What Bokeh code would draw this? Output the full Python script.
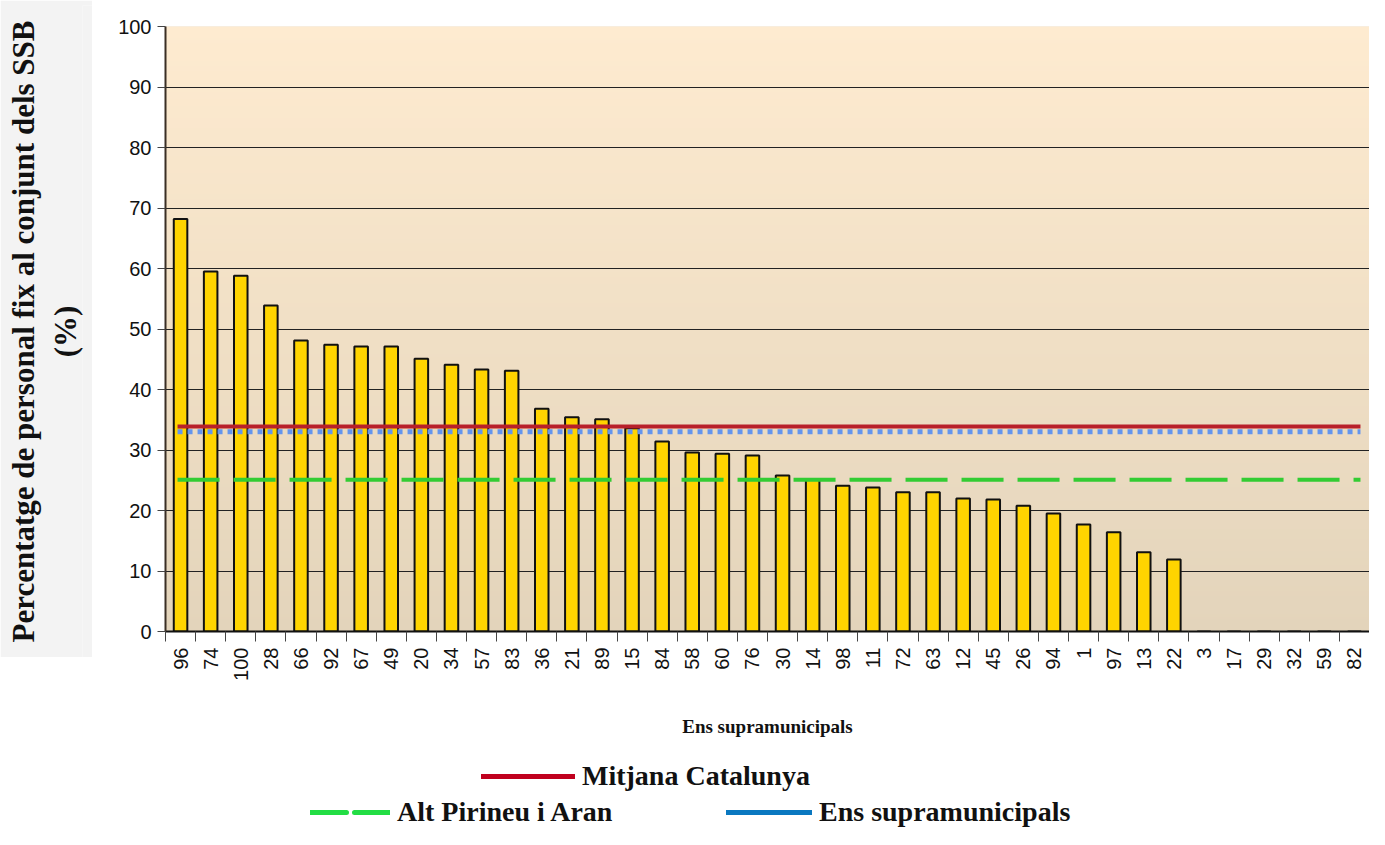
import numpy as np
from math import pi
from bokeh.plotting import figure
from bokeh.layouts import row, column
from bokeh.models import Range1d, FixedTicker, Legend, LegendItem
from bokeh.embed import file_html
from bokeh.resources import INLINE

# ---------------- data ----------------
categories = ["96", "74", "100", "28", "66", "92", "67", "49", "20", "34",
              "57", "83", "36", "21", "89", "15", "84", "58", "60", "76",
              "30", "14", "98", "11", "72", "63", "12", "45", "26", "94",
              "1", "97", "13", "22", "3", "17", "29", "32", "59", "82"]
values = [68.2, 59.5, 58.8, 53.9, 48.1, 47.4, 47.1, 47.1, 45.1, 44.1,
          43.3, 43.1, 36.8, 35.4, 35.1, 33.6, 31.4, 29.6, 29.4, 29.1,
          25.8, 25.2, 24.1, 23.8, 23.0, 23.0, 22.0, 21.8, 20.8, 19.5,
          17.7, 16.4, 13.1, 11.9, 0, 0, 0, 0, 0, 0]
mitjana_catalunya = 33.9
ens_supramunicipals = 33.0
alt_pirineu_aran = 25.1
y_ticks = [0, 10, 20, 30, 40, 50, 60, 70, 80, 90, 100]

y_title_1 = "Percentatge de personal fix al conjunt dels SSB"
y_title_2 = "(%)"
x_title = "Ens supramunicipals"
legend_labels = ["Mitjana Catalunya", "Alt Pirineu i Aran", "Ens supramunicipals"]

n = len(categories)
xs = list(range(n))

SERIF = "Liberation Serif"
SANS = "Liberation Sans"
GRAY = "#f3f3f3"

# ---------------- left gray label panel ----------------
lab = figure(width=92, height=657, x_range=(0, 1), y_range=(0, 1),
             x_axis_location=None, y_axis_location="left",
             toolbar_location=None, output_backend="svg",
             min_border_left=82, min_border_right=0, min_border_top=5,
             min_border_bottom=0, outline_line_color=None,
             background_fill_color=GRAY, border_fill_color=GRAY)
lab.grid.visible = False
lab.yaxis.ticker = FixedTicker(ticks=[])
lab.yaxis.axis_line_color = None
lab.yaxis.major_tick_line_color = None
lab.yaxis.minor_tick_line_color = None
lab.yaxis.major_tick_out = 0
lab.yaxis.major_tick_in = 0
lab.yaxis.axis_label = y_title_1 + "\n" + y_title_2
lab.yaxis.axis_label_standoff = 0
lab.yaxis.axis_label_text_font = SERIF
lab.yaxis.axis_label_text_font_style = "bold"
lab.yaxis.axis_label_text_font_size = "31px"
lab.yaxis.axis_label_text_color = "#111111"

# ---------------- main chart ----------------
p = figure(width=1277, height=740, x_range=Range1d(-0.5, n - 0.5),
           y_range=Range1d(0, 100), toolbar_location=None,
           output_backend="svg", min_border_left=73, min_border_right=0,
           min_border_top=26, min_border_bottom=109,
           outline_line_color=None, background_fill_color="#f0dfc5",
           border_fill_color="white")

# gradient plot background
H = 256
img = np.empty((H, 1), dtype=np.uint32)
view = img.view(dtype=np.uint8).reshape((H, 1, 4))
top_c = np.array([254, 235, 208])
bot_c = np.array([227, 212, 187])
t = np.linspace(0, 1, H)[:, None]
cols = (bot_c[None, :] * (1 - t) + top_c[None, :] * t).round().astype(np.uint8)
view[:, 0, 0] = cols[:, 0]
view[:, 0, 1] = cols[:, 1]
view[:, 0, 2] = cols[:, 2]
view[:, 0, 3] = 255
p.image_rgba(image=[img], x=-0.5, y=0, dw=n, dh=100, level="image")

# bars
p.vbar(x=xs, top=values, width=0.45, bottom=0, fill_color="#FFD400",
       line_color="#111111", line_width=2)

# reference lines
p.line(x=[xs[0] - 0.1, xs[-1] + 0.2], y=[mitjana_catalunya] * 2,
       line_color="#B8202A", line_width=4)
p.line(x=[xs[0] - 0.1, xs[-1] + 0.2], y=[ens_supramunicipals] * 2,
       line_color="#6495ED", line_width=5, line_dash="5 5")
p.line(x=[xs[0] - 0.1, xs[-1] + 0.2], y=[alt_pirineu_aran] * 2,
       line_color="#33CC33", line_width=4, line_dash="42 14")

# axes
p.xaxis.ticker = FixedTicker(ticks=xs, minor_ticks=[i - 0.5 for i in range(n + 1)])
p.xaxis.major_label_overrides = {i: c for i, c in zip(xs, categories)}
p.xaxis.major_label_orientation = pi / 2
p.xaxis.major_tick_line_color = None
p.xaxis.major_tick_out = 10
p.xaxis.major_tick_in = 0
p.xaxis.minor_tick_out = 10
p.xaxis.minor_tick_in = 0
p.xaxis.minor_tick_line_color = "#444444"
p.xaxis.major_label_standoff = 6
p.xaxis.major_label_text_font = SANS
p.xaxis.major_label_text_font_size = "20px"
p.xaxis.major_label_text_color = "#111111"
p.xaxis.axis_line_color = "#111111"
p.xaxis.axis_line_width = 2
p.xaxis.axis_label = x_title
p.xaxis.axis_label_text_font = SERIF
p.xaxis.axis_label_text_font_style = "bold"
p.xaxis.axis_label_text_font_size = "19px"
p.xaxis.axis_label_text_color = "#111111"
p.xaxis.axis_label_standoff = 32

p.yaxis.ticker = FixedTicker(ticks=y_ticks)
p.yaxis.major_tick_out = 8
p.yaxis.major_tick_in = 0
p.yaxis.major_tick_line_color = "#444444"
p.yaxis.minor_tick_line_color = None
p.yaxis.major_label_standoff = 6
p.yaxis.major_label_text_font = SANS
p.yaxis.major_label_text_font_size = "20px"
p.yaxis.major_label_text_color = "#111111"
p.yaxis.axis_line_color = "#3a2f25"
p.yaxis.axis_line_width = 2

p.xgrid.visible = False
p.ygrid.ticker = FixedTicker(ticks=y_ticks)
p.ygrid.grid_line_color = "#222222"
p.ygrid.grid_line_width = 1

# ---------------- legend strip ----------------
leg = figure(width=1277, height=89, x_range=(0, 1), y_range=(0, 1),
             x_axis_location=None, y_axis_location=None,
             toolbar_location=None, output_backend="svg",
             min_border_left=73, min_border_right=0, min_border_top=0,
             min_border_bottom=0, outline_line_color=None,
             background_fill_color="white", border_fill_color="white")
leg.grid.visible = False
nan = float("nan")
r_cat = leg.line(x=[0.5], y=[nan], line_color="#C0001E", line_width=5,
                 line_cap="round")
r_alt = leg.line(x=[0.5], y=[nan], line_color="#22DD44", line_width=5,
                 line_dash="36 8", line_cap="round")
r_ens = leg.line(x=[0.5], y=[nan], line_color="#0A78C0", line_width=5,
                 line_cap="round")


def make_legend(label, rend, loc, gw):
    lg = Legend(items=[LegendItem(label=label, renderers=[rend])],
                location=loc, orientation="horizontal",
                glyph_width=gw, glyph_height=30, label_standoff=7,
                padding=0, margin=0, border_line_color=None,
                background_fill_alpha=0, label_text_font=SERIF,
                label_text_font_style="bold", label_text_font_size="28px",
                label_text_color="#111111", label_height=30)
    leg.add_layout(lg, "center")
    return lg


# frame of the legend strip starts at x = 165 in the page
make_legend(legend_labels[0], r_cat, (316, 37), 94)
make_legend(legend_labels[1], r_alt, (145, 1), 80)
make_legend(legend_labels[2], r_ens, (561, 1), 86)

layout = row(lab, column(p, leg))

open("out.html", "w").write(file_html(layout, INLINE))
